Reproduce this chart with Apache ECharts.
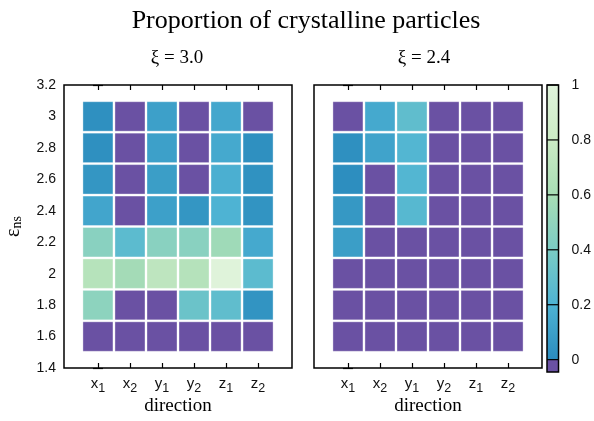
<!DOCTYPE html>
<html><head><meta charset="utf-8">
<script src="https://cdn.jsdelivr.net/npm/echarts@6/dist/echarts.min.js"></script>
<style>html,body{margin:0;padding:0;background:#fff}#c{width:594px;height:421px}</style>
</head><body><div id="c"></div>
<script>
// ---- data ----
const directionLetters = ['x', 'x', 'y', 'y', 'z', 'z'];
const directionSubs = ['1', '2', '1', '2', '1', '2'];
const epsValues = [3.0, 2.8, 2.6, 2.4, 2.2, 2.0, 1.8, 1.6];
// rows follow epsValues, columns follow directions
const xi30 = [
  [0.02, 0, 0.10, 0, 0.14, 0],
  [0.02, 0, 0.10, 0, 0.15, 0.02],
  [0.05, 0, 0.09, 0, 0.18, 0.03],
  [0.13, 0, 0.10, 0.05, 0.20, 0.04],
  [0.46, 0.26, 0.46, 0.46, 0.56, 0.15],
  [0.68, 0.58, 0.72, 0.67, 0.99, 0.26],
  [0.48, 0, 0, 0.33, 0.28, 0.04],
  [0, 0, 0, 0, 0, 0]
];
const xi24 = [
  [0, 0.15, 0.28, 0, 0, 0],
  [0.02, 0.12, 0.22, 0, 0, 0],
  [0.01, 0, 0.22, 0, 0, 0],
  [0.06, 0, 0.24, 0, 0, 0],
  [0.09, 0, 0, 0, 0, 0],
  [0, 0, 0, 0, 0, 0],
  [0, 0, 0, 0, 0, 0],
  [0, 0, 0, 0, 0, 0]
];
const directionTicks = [0, 1, 2, 3, 4, 5];
const cbTicks = [0, 0.2, 0.4, 0.6, 0.8, 1];
const cbSegments = [[-0.045, 0, 0], [0, 1, 1]];
const paletteColors = ['#2b8cbe', '#4eb3d3', '#7bccc4', '#a8ddb5', '#ccebc5', '#e0f3db'];
const zeroColor = '#6a51a3';

function toCells(m) {
  const out = [];
  m.forEach((row, r) => row.forEach((v, c) => out.push([c, epsValues[r], v])));
  return out;
}

const chart = echarts.init(document.getElementById('c'), null, {renderer: 'canvas'});
const SANS = 'Liberation Sans';
const SERIF = 'Liberation Serif';
const LETTER_PX = 15, SUB_PX = 12.5;
const letterW = LETTER_PX * 0.5, subW = SUB_PX * 0.556;

function renderCell(params, api) {
  const v = api.value(2);
  const p = api.coord([api.value(0), api.value(1)]);
  const s = api.size([1, 0.2]);
  const g = 2;
  return {
    type: 'rect',
    shape: {x: p[0] - s[0] / 2 + g / 2, y: p[1] - s[1] / 2 + g / 2, width: s[0] - g, height: s[1] - g},
    style: {fill: v <= 0 ? zeroColor : api.visual('color'), stroke: 'rgba(255,255,255,0.35)', lineWidth: 1}
  };
}
function renderBar(params, api) {
  const p0 = api.coord([0, api.value(1)]);
  const p1 = api.coord([1, api.value(0)]);
  const isGrad = api.value(2) === 1;
  const fill = isGrad ? new echarts.graphic.LinearGradient(0, 1, 0, 0,
      paletteColors.map((c, i) => ({offset: cbTicks[i], color: c}))) : zeroColor;
  return {type: 'rect', shape: {x: p0[0], y: p0[1], width: p1[0] - p0[0], height: p1[1] - p0[1]}, style: {fill}};
}
function renderBarTick(params, api) {
  const a = api.coord([0, api.value(0)]);
  const b = api.coord([1, api.value(0)]);
  return {type: 'line', shape: {x1: a[0], y1: a[1], x2: b[0], y2: b[1]}, style: {stroke: '#000', lineWidth: 1.2}};
}

const tickStyle = {color: '#000', width: 1.2};
function xAxes(gridIndex) {
  const common = {
    type: 'value', gridIndex, min: -1.06, max: 6.06,
    axisLine: {show: false}, splitLine: {show: false},
    axisTick: {show: true, inside: true, length: 5, customValues: directionTicks, lineStyle: tickStyle}
  };
  return [
    Object.assign({}, common, {
      position: 'bottom',
      name: 'direction', nameLocation: 'middle', nameGap: 29,
      nameTextStyle: {fontFamily: SERIF, fontSize: 19, color: '#000'},
      axisLabel: {
        show: true, customValues: directionTicks, margin: 8,
        formatter: v => '{b|' + directionLetters[v] + '}{w|}',
        rich: {
          b: {fontFamily: SANS, fontSize: LETTER_PX, color: '#111'},
          w: {width: subW}
        }
      }
    }),
    Object.assign({}, common, {position: 'top', axisLabel: {show: false}}),
    // subscript layer of the direction labels
    Object.assign({}, common, {
      position: 'bottom', axisTick: {show: false},
      axisLabel: {
        show: true, customValues: directionTicks, margin: 14,
        formatter: v => '{w|}{s|' + directionSubs[v] + '}',
        rich: {
          s: {fontFamily: SANS, fontSize: SUB_PX, color: '#111'},
          w: {width: letterW}
        }
      }
    })
  ];
}
function yAxisPair(gridIndex, withLabels) {
  const common = {
    type: 'value', gridIndex, min: 1.4, max: 3.2, interval: 0.2,
    axisLine: {show: false}, splitLine: {show: false},
    axisTick: {show: true, inside: true, length: 5, lineStyle: tickStyle}
  };
  const left = Object.assign({}, common, {
    position: 'left',
    axisLabel: {show: withLabels, margin: 8, fontFamily: SANS, fontSize: 14, color: '#111'}
  });
  if (withLabels) {
    Object.assign(left, {
      name: '{e|ε}{s|ns}', nameLocation: 'middle', nameRotate: 90, nameGap: 40,
      nameTextStyle: {
        rich: {
          e: {fontFamily: SERIF, fontSize: 20, lineHeight: 20, verticalAlign: 'top', color: '#000'},
          s: {fontFamily: SERIF, fontSize: 14, lineHeight: 14, padding: [9, 0, 0, 0], verticalAlign: 'bottom', color: '#000'}
        }
      }
    });
  }
  return [left, Object.assign({}, common, {position: 'right', axisLabel: {show: false}})];
}

const xa = [...xAxes(0), ...xAxes(1),
  {type: 'value', gridIndex: 2, min: 0, max: 1, show: false}];
const ya = [...yAxisPair(0, true), ...yAxisPair(1, false),
  {type: 'value', gridIndex: 2, min: -0.045, max: 1, position: 'right',
   axisLine: {show: false}, splitLine: {show: false}, axisTick: {show: false},
   axisLabel: {show: true, customValues: cbTicks, margin: 13, fontFamily: SANS, fontSize: 14, color: '#111',
     formatter: v => String(v)}}];

const gridBase = {show: true, borderColor: '#000', borderWidth: 1.5, z: 10, containLabel: false};
chart.setOption({
  animation: false,
  backgroundColor: '#fff',
  grid: [
    Object.assign({left: 64, top: 85, width: 228, height: 287}, gridBase),
    Object.assign({left: 314, top: 85, width: 228, height: 287}, gridBase),
    Object.assign({left: 547, top: 85, width: 12, height: 287}, gridBase)
  ],
  xAxis: xa,
  yAxis: ya,
  visualMap: [{type: 'continuous', show: false, seriesIndex: [0, 1], dimension: 2, min: 0, max: 1,
    inRange: {color: paletteColors}}],
  graphic: [
    {type: 'text', x: 306, y: 21, style: {text: 'Proportion of crystalline particles', fontFamily: SERIF, fontSize: 26,
      fill: '#000', align: 'center', textAlign: 'center', verticalAlign: 'middle', textVerticalAlign: 'middle'}},
    {type: 'text', x: 177, y: 58, style: {text: 'ξ = 3.0', fontFamily: SERIF, fontSize: 19,
      fill: '#000', align: 'center', textAlign: 'center', verticalAlign: 'middle', textVerticalAlign: 'middle'}},
    {type: 'text', x: 424, y: 58, style: {text: 'ξ = 2.4', fontFamily: SERIF, fontSize: 19,
      fill: '#000', align: 'center', textAlign: 'center', verticalAlign: 'middle', textVerticalAlign: 'middle'}}
  ],
  series: [
    {type: 'custom', xAxisIndex: 0, yAxisIndex: 0, renderItem: renderCell, data: toCells(xi30), encode: {x: 0, y: 1}},
    {type: 'custom', xAxisIndex: 3, yAxisIndex: 2, renderItem: renderCell, data: toCells(xi24), encode: {x: 0, y: 1}},
    {type: 'custom', xAxisIndex: 6, yAxisIndex: 4, renderItem: renderBar, data: cbSegments, encode: {y: [0, 1]}, z: 2},
    {type: 'custom', xAxisIndex: 6, yAxisIndex: 4, renderItem: renderBarTick, data: cbTicks.map(v => [v]), encode: {y: 0}, z: 5}
  ]
});
</script></body></html>
